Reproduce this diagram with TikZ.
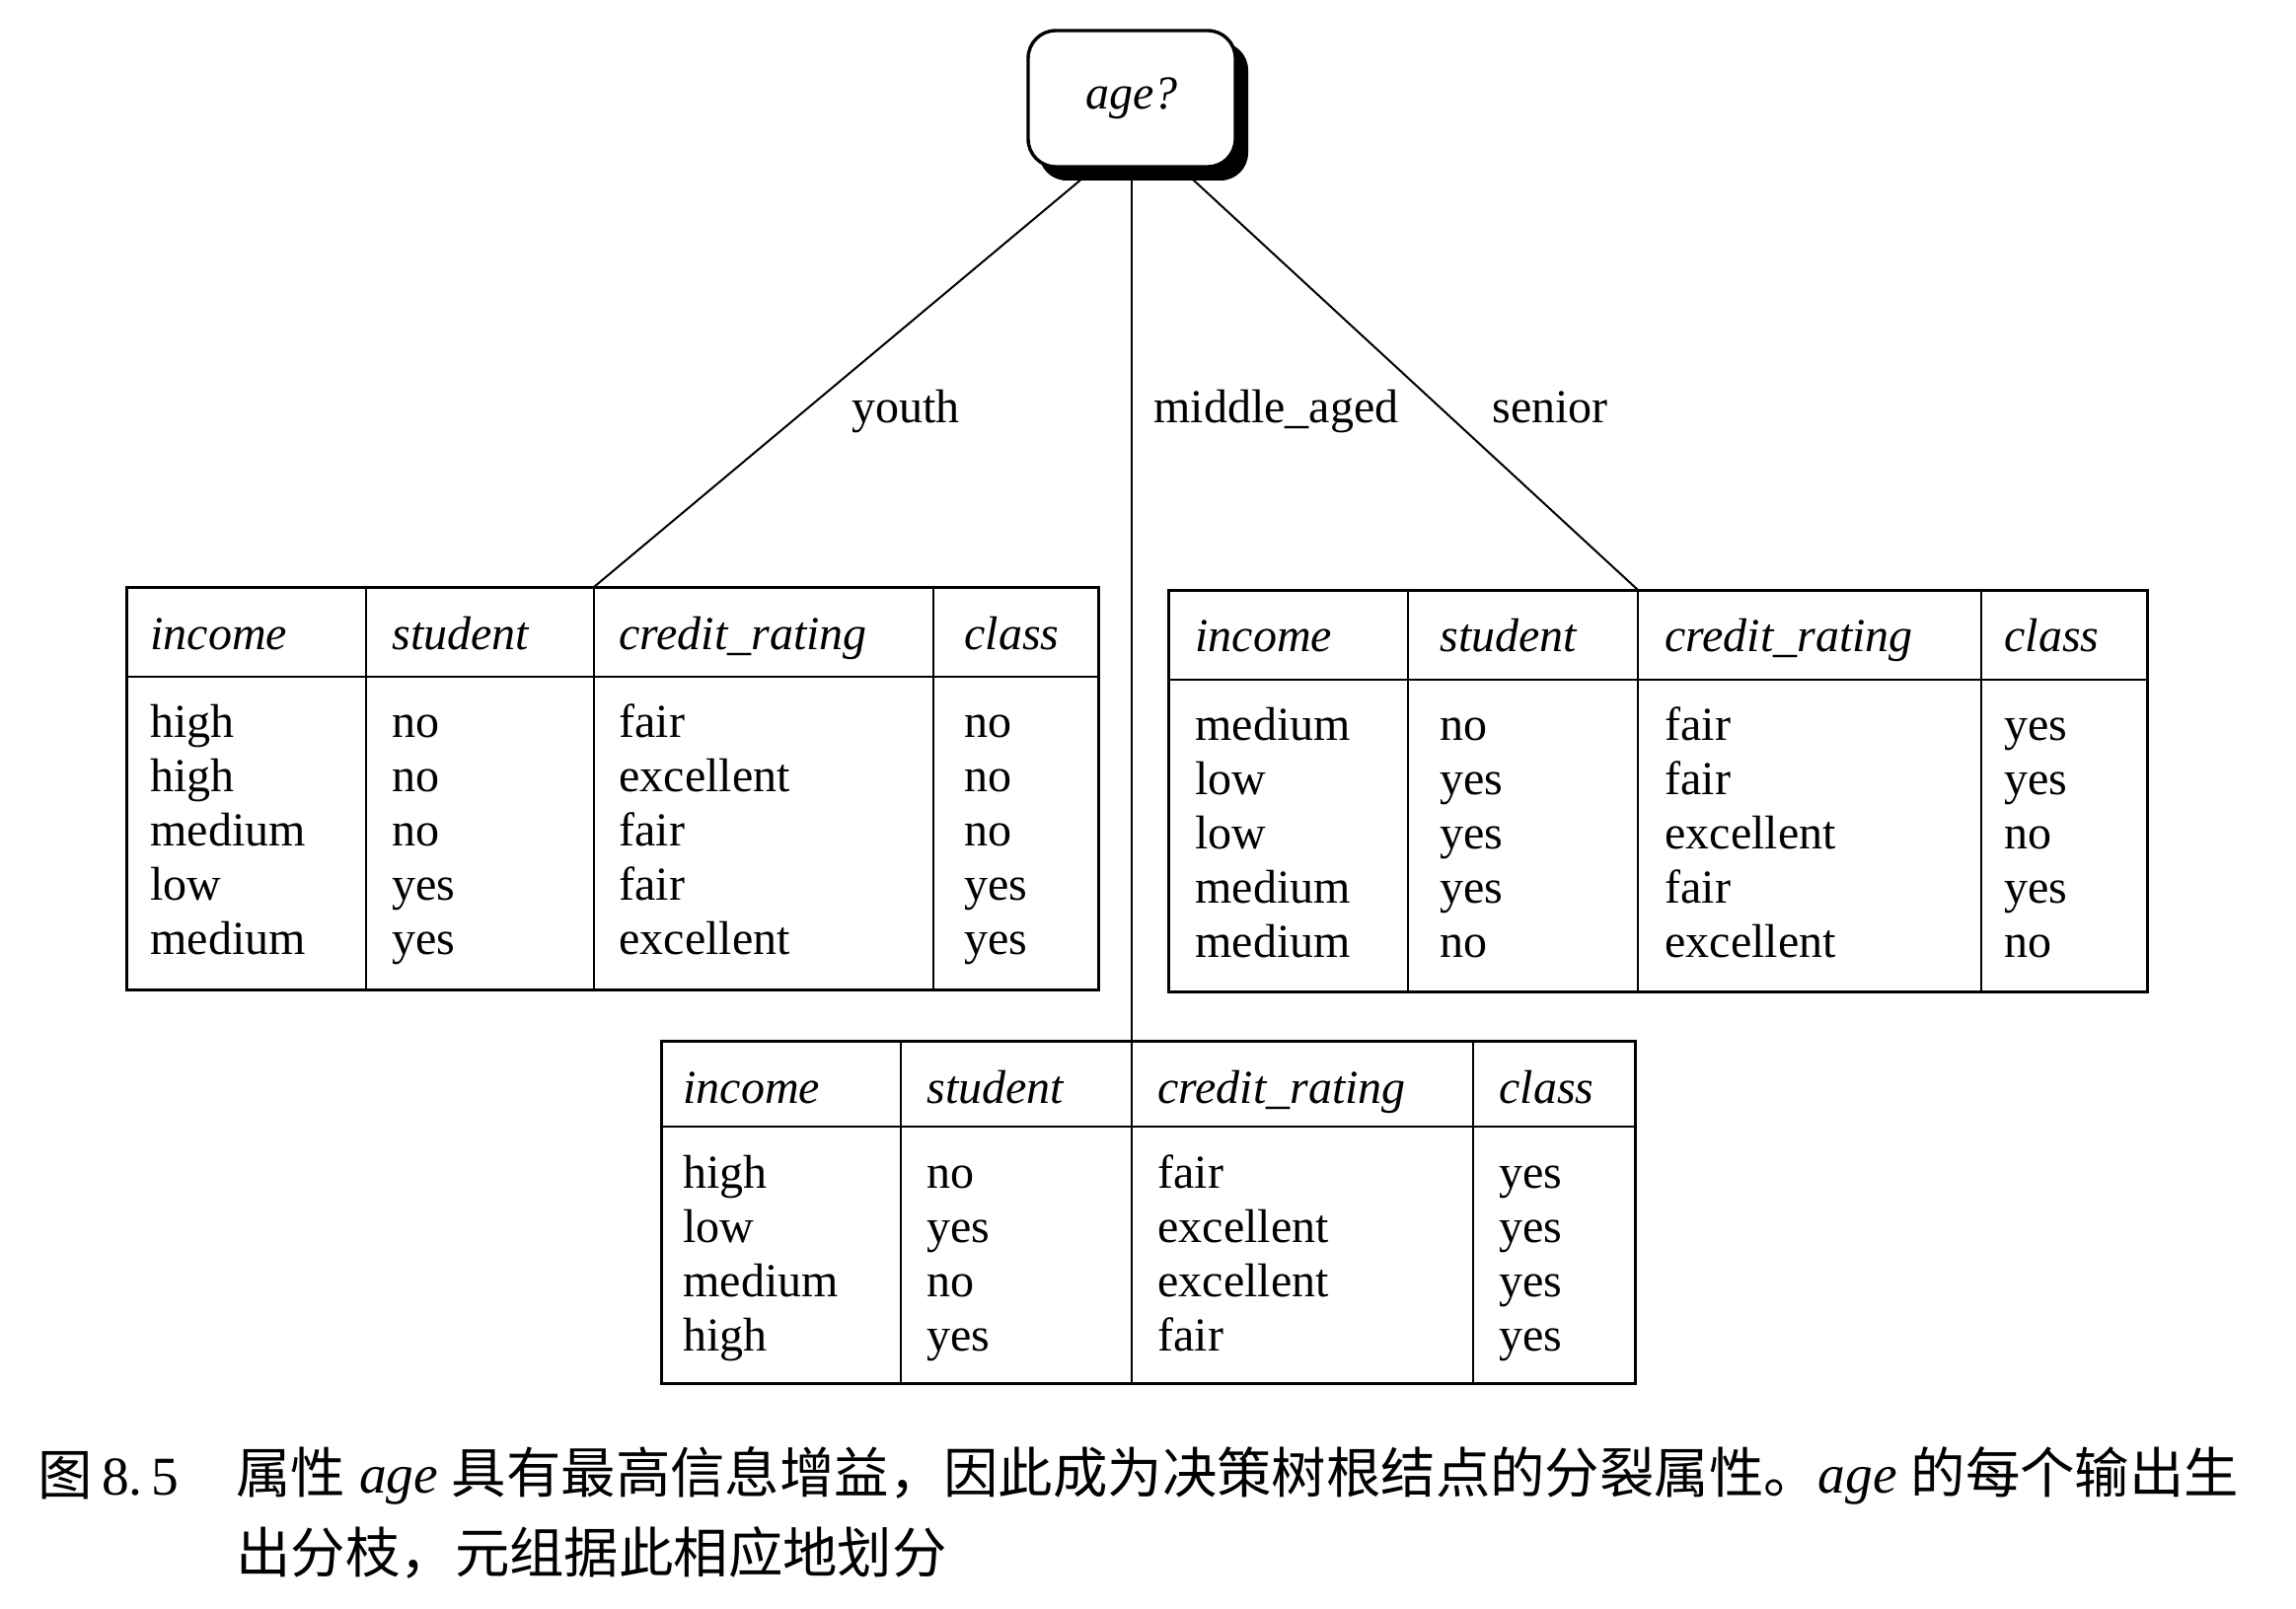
\documentclass[tikz,border=0pt]{standalone}
\usepackage{fontspec}
\setmainfont{Liberation Serif}
\newfontfamily\cjk{Noto Sans CJK SC}
\usetikzlibrary{backgrounds}
\begin{document}
\begin{tikzpicture}[x=0.5pt,y=-0.5pt,
  cell/.style={anchor=base west, inner sep=0pt, font=\fontsize{24}{28}\selectfont},
  head/.style={anchor=base west, inner sep=0pt, font=\fontsize{24}{28}\selectfont\itshape},
  outerline/.style={line width=1.5pt},
  innerline/.style={line width=1pt},
  conn/.style={line width=1pt},
  rootbox/.style={draw, line width=1.7pt, fill=white, rounded corners=14pt,
    minimum width=105pt, minimum height=69pt, inner sep=0pt,
    font=\fontsize{24}{28}\selectfont\itshape},
  rootshadow/.style={fill=black, rounded corners=14pt,
    minimum width=106pt, minimum height=70pt, inner sep=0pt},
  captext/.style={anchor=west, inner sep=0pt, font=\fontsize{27.7}{32}\selectfont}]
\useasboundingbox (0,0) rectangle (2327,1631);

% ---------- root ----------
\node[rootshadow] (rootsh) at (1159,113) {};
\node[rootbox] (root) at (1147,100) {\raisebox{-2pt}{age?}};
\coordinate (rootL) at (1110,170);
\coordinate (rootR) at (1196,170);

% ---------- table coordinates (connector ends) ----------
\coordinate (t1top) at (602,595);
\coordinate (t2top) at (1660,598);
\coordinate (t3top) at (1147,1055);

% ---------- connectors ----------
\begin{scope}[on background layer]
  \draw[conn] (rootL) -- (t1top);
  \draw[conn] (root.south) -- (t3top);
  \draw[conn] (rootR) -- (t2top);
\end{scope}

% ---------- branch labels ----------
\node[cell] (lyouth) at (863,428) {youth};
\node[cell] (lmid) at (1169,428) {middle\_aged};
\node[cell] (lsenior) at (1512,428) {senior};

% ---------- table 1 (youth) ----------
\draw[outerline] (128,595) rectangle (1113,1003);
\draw[innerline] (128,686) -- (1113,686);
\foreach \cx in {371,602,946} \draw[innerline] (\cx,595) -- (\cx,1003);
\node[head] (ah-1) at (152,658) {income};
\node[head] (ah-2) at (397,658) {student};
\node[head] (ah-3) at (627,658) {credit\_rating};
\node[head] (ah-4) at (977,658) {class};
\foreach \t [count=\i] in {high,high,medium,low,medium}
  \node[cell] (aa-\i) at (152,{747+55*(\i-1)}) {\t};
\foreach \t [count=\i] in {no,no,no,yes,yes}
  \node[cell] (ab-\i) at (397,{747+55*(\i-1)}) {\t};
\foreach \t [count=\i] in {fair,excellent,fair,fair,excellent}
  \node[cell] (ac-\i) at (627,{747+55*(\i-1)}) {\t};
\foreach \t [count=\i] in {no,no,no,yes,yes}
  \node[cell] (ad-\i) at (977,{747+55*(\i-1)}) {\t};

% ---------- table 2 (senior) ----------
\draw[outerline] (1184,598) rectangle (2176,1005);
\draw[innerline] (1184,689) -- (2176,689);
\foreach \cx in {1427,1660,2008} \draw[innerline] (\cx,598) -- (\cx,1005);
\node[head] (bh-1) at (1211,660) {income};
\node[head] (bh-2) at (1459,660) {student};
\node[head] (bh-3) at (1687,660) {credit\_rating};
\node[head] (bh-4) at (2031,660) {class};
\foreach \t [count=\i] in {medium,low,low,medium,medium}
  \node[cell] (ba-\i) at (1211,{750+55*(\i-1)}) {\t};
\foreach \t [count=\i] in {no,yes,yes,yes,no}
  \node[cell] (bb-\i) at (1459,{750+55*(\i-1)}) {\t};
\foreach \t [count=\i] in {fair,fair,excellent,fair,excellent}
  \node[cell] (bc-\i) at (1687,{750+55*(\i-1)}) {\t};
\foreach \t [count=\i] in {yes,yes,no,yes,no}
  \node[cell] (bd-\i) at (2031,{750+55*(\i-1)}) {\t};

% ---------- table 3 (middle_aged) ----------
\draw[outerline] (670,1055) rectangle (1657,1402);
\draw[innerline] (670,1142) -- (1657,1142);
\foreach \cx in {913,1147,1493} \draw[innerline] (\cx,1055) -- (\cx,1402);
\node[head] (ch-1) at (692,1118) {income};
\node[head] (ch-2) at (939,1118) {student};
\node[head] (ch-3) at (1173,1118) {credit\_rating};
\node[head] (ch-4) at (1519,1118) {class};
\foreach \t [count=\i] in {high,low,medium,high}
  \node[cell] (ca-\i) at (692,{1204+55*(\i-1)}) {\t};
\foreach \t [count=\i] in {no,yes,no,yes}
  \node[cell] (cb-\i) at (939,{1204+55*(\i-1)}) {\t};
\foreach \t [count=\i] in {fair,excellent,excellent,fair}
  \node[cell] (cc-\i) at (1173,{1204+55*(\i-1)}) {\t};
\foreach \t [count=\i] in {yes,yes,yes,yes}
  \node[cell] (cd-\i) at (1519,{1204+55*(\i-1)}) {\t};

% ---------- caption ----------
\node[captext] (capnum) at (38,1496) {{\cjk 图}\,8.\,5};
\node[captext] (cap1) at (239,1496) {{\cjk 属性} \textit{age} {\cjk 具有最高信息增益，因此成为决策树根结点的分裂属性。}\textit{age} {\cjk 的每个输出生}};
\node[captext] (cap2) at (239,1574) {{\cjk 出分枝，元组据此相应地划分}};
\end{tikzpicture}
\end{document}
